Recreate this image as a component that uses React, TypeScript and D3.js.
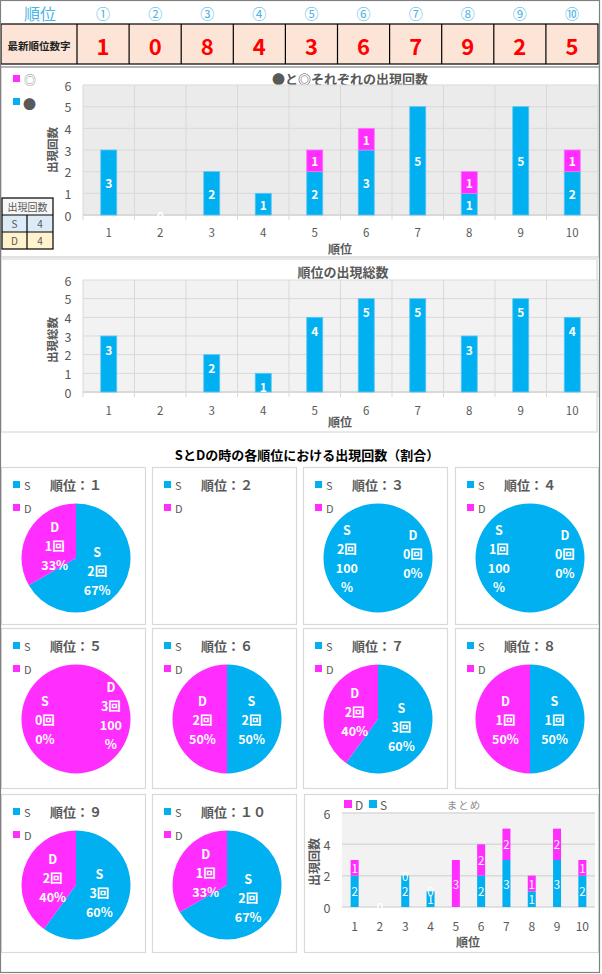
import React from 'react'
import * as d3 from 'd3'

const FONT = '"Noto Sans CJK JP", "Noto Sans", sans-serif'
const CYAN = '#00B0F0'
const MAGENTA = '#FF2EFF'
const GRAY = '#595959'
const GRID = '#D9D9D9'

// data read from the sheet
const rankLabels = ['1', '2', '3', '4', '5', '6', '7', '8', '9', '10']
const circledLabels = ['①', '②', '③', '④', '⑤', '⑥', '⑦', '⑧', '⑨', '⑩']
const latestDigits = [1, 0, 8, 4, 3, 6, 7, 9, 2, 5]
const dotCounts = [3, 0, 2, 1, 2, 3, 5, 1, 5, 2]
const ringCounts = [0, 0, 0, 0, 1, 1, 0, 1, 0, 1]
const totalCounts = [3, 0, 2, 1, 4, 5, 5, 3, 5, 4]
const sCounts = [2, 0, 2, 1, 0, 2, 3, 1, 3, 2]
const dCounts = [1, 0, 0, 0, 3, 2, 2, 1, 2, 1]
const pieTitles = ['順位：１', '順位：２', '順位：３', '順位：４', '順位：５', '順位：６', '順位：７', '順位：８', '順位：９', '順位：１０']
const sliceNames = ['S', 'D']
const tableKeys = ['S', 'D']
const tableValues = [4, 4]
const yTicksMain = [0, 1, 2, 3, 4, 5, 6]
const yTicksSummary = [0, 2, 4, 6]

function TopTable() {
  const x = d3.scaleBand<number>().domain(d3.range(10)).range([77, 598])
  const bw = x.bandwidth()
  return (
    <g>
      <text x={40} y={13} textAnchor="middle" dominantBaseline="central" fontSize={16} fill="#4BB5E6">順位</text>
      {circledLabels.map((c, i) => (
        <text key={c} x={x(i)! + bw / 2} y={13} textAnchor="middle" dominantBaseline="central" fontSize={14} fill="#4BB5E6">{c}</text>
      ))}
      <rect x={1} y={24} width={597} height={40} fill="#FCE4D6" stroke="#000" strokeWidth={1.2} />
      {d3.range(10).map((i) => (
        <line key={i} x1={x(i)} x2={x(i)} y1={24} y2={64} stroke="#000" strokeWidth={1.2} />
      ))}
      <text x={39} y={45} textAnchor="middle" dominantBaseline="central" fontSize={10.5} fontWeight="bold" fill="#222">最新順位数字</text>
      {latestDigits.map((v, i) => (
        <text key={i} x={x(i)! + bw / 2} y={45} textAnchor="middle" dominantBaseline="central" fontSize={22} fontWeight="bold" fill="#FF0000">{v}</text>
      ))}
    </g>
  )
}

type Series = { values: number[]; color: string; edge: string }

function ColumnPanel(props: {
  yBottom: number
  yTop: number
  bg: string
  series: Series[]
  labelAtEnd: boolean
  title: string
  titleX: number
  titleY: number
  yTitle: string
  yTitleY: number
  tickY: number
  xTitleY: number
}) {
  const { yBottom, yTop, bg, series, labelAtEnd } = props
  const x = d3.scaleBand<string>().domain(rankLabels).range([83, 598])
  const y = d3.scaleLinear().domain([0, 6]).range([yBottom, yTop])
  const bw = x.bandwidth()
  const barW = 16
  const edges = rankLabels.map((r) => x(r)!).concat([598])
  return (
    <g>
      <text x={props.titleX} y={props.titleY} textAnchor="middle" dominantBaseline="central" fontSize={13} fontWeight="bold" fill={GRAY}>{props.title}</text>
      <rect x={83} y={y(6)} width={515} height={y(0) - y(6)} fill={bg} />
      {yTicksMain.map((t) => (
        <line key={t} x1={83} x2={598} y1={y(t)} y2={y(t)} stroke={GRID} strokeWidth={1} />
      ))}
      {edges.map((e, i) => (
        <line key={i} x1={e} x2={e} y1={y(6)} y2={y(0) + 5} stroke={GRID} strokeWidth={1} />
      ))}
      <line x1={83} x2={598} y1={y(0)} y2={y(0)} stroke={GRID} strokeWidth={2} />
      {yTicksMain.map((t) => (
        <text key={t} x={68} y={y(t)} textAnchor="middle" dominantBaseline="central" fontSize={12.5} fill={GRAY}>{t}</text>
      ))}
      {rankLabels.map((r) => (
        <text key={r} x={x(r)! + bw / 2} y={props.tickY} textAnchor="middle" dominantBaseline="central" fontSize={11.5} fill={GRAY}>{r}</text>
      ))}
      <text x={340} y={props.xTitleY} textAnchor="middle" dominantBaseline="central" fontSize={12} fontWeight="bold" fill={GRAY}>順位</text>
      <text transform={`translate(52,${props.yTitleY}) rotate(-90)`} textAnchor="middle" dominantBaseline="central" fontSize={11.5} fontWeight="bold" fill={GRAY}>{props.yTitle}</text>
      {rankLabels.map((r, i) => {
        let base = 0
        const total = d3.sum(series, (s) => s.values[i])
        return (
          <g key={r}>
            {series.map((s, k) => {
              const v = s.values[i]
              const y0 = base
              base += v
              const bx = x(r)! + (bw - barW) / 2
              const showLabel = v > 0 || (!labelAtEnd && k === 0 && total === 0)
              const ly = labelAtEnd ? y(base) + 13 : (y(y0) + y(base)) / 2
              return (
                <g key={k}>
                  {v > 0 && (
                    <rect x={bx} y={y(base)} width={barW} height={y(y0) - y(base)} fill={s.color} stroke={s.edge} strokeWidth={0.8} />
                  )}
                  {showLabel && (
                    <text x={bx + barW / 2} y={ly} textAnchor="middle" dominantBaseline="central" fontSize={12} fontWeight="bold" fill="#fff">{v}</text>
                  )}
                </g>
              )
            })}
          </g>
        )
      })}
    </g>
  )
}

function MiniTable() {
  const cols = [2, 27, 53]
  const rows = [198, 215, 232, 249]
  const fills = ['#DDEBF7', '#FFF2CC']
  return (
    <g fontSize={10} fill={GRAY}>
      <rect x={cols[0]} y={rows[0]} width={cols[2] - cols[0]} height={rows[1] - rows[0]} fill="#F7F7F7" />
      {tableKeys.map((k, i) => (
        <rect key={k} x={cols[0]} y={rows[i + 1]} width={cols[2] - cols[0]} height={rows[i + 2] - rows[i + 1]} fill={fills[i]} />
      ))}
      <rect x={cols[0]} y={rows[0]} width={cols[2] - cols[0]} height={rows[3] - rows[0]} fill="none" stroke="#000" strokeWidth={1.2} />
      {rows.slice(1, 3).map((r) => (
        <line key={r} x1={cols[0]} x2={cols[2]} y1={r} y2={r} stroke="#000" strokeWidth={1.2} />
      ))}
      <line x1={cols[1]} x2={cols[1]} y1={rows[1]} y2={rows[3]} stroke="#000" strokeWidth={1.2} />
      <text x={(cols[0] + cols[2]) / 2} y={(rows[0] + rows[1]) / 2} textAnchor="middle" dominantBaseline="central" fill={GRAY}>出現回数</text>
      {tableKeys.map((k, i) => (
        <g key={k}>
          <text x={(cols[0] + cols[1]) / 2} y={(rows[i + 1] + rows[i + 2]) / 2} textAnchor="middle" dominantBaseline="central" fill={GRAY}>{k}</text>
          <text x={(cols[1] + cols[2]) / 2} y={(rows[i + 1] + rows[i + 2]) / 2} textAnchor="middle" dominantBaseline="central" fill={GRAY}>{tableValues[i]}</text>
        </g>
      ))}
    </g>
  )
}

function PieBox({ i, bx, by, w, h }: { i: number; bx: number; by: number; w: number; h: number }) {
  const values = [sCounts[i], dCounts[i]]
  const total = d3.sum(values)
  const cx = bx + 75
  const cy = by + 91
  const r = 54.5
  const arcs = total > 0 ? d3.pie<number>().sort(null).value((v) => v)(values) : []
  const arc = d3.arc<d3.PieArcDatum<number>>().innerRadius(0).outerRadius(r)
  const labelArc = d3.arc<d3.PieArcDatum<number>>().innerRadius(0).outerRadius(r * 0.9)
  const colors = [CYAN, MAGENTA]
  const single = values.some((v) => v === 0)
  const sidePos = [
    [-0.57 * r, 0],
    [0.64 * r, -0.08 * r],
  ]
  const clipId = `pieclip-${i}`
  return (
    <g>
      <rect x={bx + 0.5} y={by + 0.5} width={w} height={h} fill="#fff" stroke={GRID} strokeWidth={1.2} />
      {sliceNames.map((n, k) => (
        <g key={n}>
          <rect x={bx + 12} y={by + 14 + k * 23} width={7} height={7} fill={colors[k]} />
          <text x={bx + 23} y={by + 18 + k * 23} dominantBaseline="central" fontSize={11} fill={GRAY}>{n}</text>
        </g>
      ))}
      <text x={bx + 49} y={by + 17} dominantBaseline="central" fontSize={13} fontWeight="bold" fill={GRAY}>{pieTitles[i]}</text>
      <clipPath id={clipId}>
        <rect x={cx - r} y={cy - r} width={2 * r} height={2 * r} />
      </clipPath>
      <g transform={`translate(${cx},${cy})`}>
        {arcs.map((a, k) =>
          values[k] > 0 ? <path key={k} d={arc(a) || ''} fill={colors[k]} /> : null
        )}
      </g>
      <g clipPath={`url(#${clipId})`}>
        {arcs.map((a, k) => {
          const v = values[k]
          const pct = Math.round((v / total) * 100)
          const lines = [sliceNames[k], `${v}回`].concat(pct === 100 ? ['100', '%'] : [`${pct}%`])
          const [lx, ly] = single ? sidePos[k] : labelArc.centroid(a)
          const top = ly - ((lines.length - 1) * 19) / 2
          return (
            <g key={k}>
              {lines.map((t, j) => (
                <text key={j} x={cx + lx} y={cy + top + j * 19} textAnchor="middle" dominantBaseline="central" fontSize={12.5} fontWeight="bold" fill="#fff">{t}</text>
              ))}
            </g>
          )
        })}
      </g>
    </g>
  )
}

function SummaryChart() {
  const x = d3.scaleBand<string>().domain(rankLabels).range([342, 595])
  const y = d3.scaleLinear().domain([0, 6]).range([907, 813])
  const bw = x.bandwidth()
  const barW = 8
  const stack = [
    { values: sCounts, color: CYAN },
    { values: dCounts, color: MAGENTA },
  ]
  return (
    <g>
      <rect x={304.5} y={794.5} width={294} height={158} fill="#fff" stroke={GRID} strokeWidth={1.2} />
      <rect x={344} y={800} width={8} height={8} fill={MAGENTA} />
      <text x={355} y={804} dominantBaseline="central" fontSize={12} fill={GRAY}>D</text>
      <rect x={369} y={800} width={8} height={8} fill={CYAN} />
      <text x={380} y={804} dominantBaseline="central" fontSize={12} fill={GRAY}>S</text>
      <text x={464} y={804} textAnchor="middle" dominantBaseline="central" fontSize={10.5} letterSpacing={1} fill="#8C8C8C">まとめ</text>
      <rect x={342} y={y(6)} width={253} height={y(0) - y(6)} fill="#F2F2F2" />
      {yTicksSummary.map((t) => (
        <line key={t} x1={342} x2={595} y1={y(t)} y2={y(t)} stroke={GRID} strokeWidth={1.5} />
      ))}
      {yTicksSummary.map((t) => (
        <text key={t} x={327} y={y(t)} textAnchor="middle" dominantBaseline="central" fontSize={12.5} fill={GRAY}>{t}</text>
      ))}
      {rankLabels.map((r) => (
        <text key={r} x={x(r)! + bw / 2} y={925} textAnchor="middle" dominantBaseline="central" fontSize={12} fill={GRAY}>{r}</text>
      ))}
      <text x={468} y={941} textAnchor="middle" dominantBaseline="central" fontSize={12} fontWeight="bold" fill={GRAY}>順位</text>
      <text transform="translate(313,862) rotate(-90)" textAnchor="middle" dominantBaseline="central" fontSize={12} fontWeight="bold" fill={GRAY}>出現回数</text>
      {rankLabels.map((r, i) => {
        let base = 0
        const bx = x(r)! + (bw - barW) / 2
        return (
          <g key={r}>
            {stack.map((s, k) => {
              const v = s.values[i]
              const y0 = base
              base += v
              return (
                <g key={k}>
                  {v > 0 && <rect x={bx} y={y(base)} width={barW} height={y(y0) - y(base)} fill={s.color} />}
                  <text x={bx + barW / 2} y={(y(y0) + y(base)) / 2} textAnchor="middle" dominantBaseline="central" fontSize={11.5} fill="#fff">{v}</text>
                </g>
              )
            })}
          </g>
        )
      })}
    </g>
  )
}

export default function App() {
  const colX = [1, 152, 303, 455]
  const colW = [144, 144, 144, 143]
  const rowY = [467, 628, 794]
  const rowH = [157, 160, 158]
  return (
    <div style={{ position: 'absolute', left: 0, top: 0 }}>
      <svg width={602} height={974} style={{ display: 'block' }} fontFamily={FONT}>
        <rect x={0} y={0} width={602} height={974} fill="#fff" />
        <TopTable />
        <rect x={1} y={67} width={598} height={190} fill="#fff" stroke={GRID} strokeWidth={1.5} />
        <line x1={1} x2={599} y1={67} y2={67} stroke="#A6A6A6" strokeWidth={1.5} />
        <g>
          <rect x={13} y={75} width={7} height={7} fill={MAGENTA} />
          <text x={24} y={79} dominantBaseline="central" fontSize={12} fill="#8C8C8C">◎</text>
          <rect x={13} y={98} width={7} height={7} fill={CYAN} />
          <text x={23} y={103} dominantBaseline="central" fontSize={13} fill={GRAY}>●</text>
        </g>
        <ColumnPanel
          yBottom={215}
          yTop={85}
          bg="#EBEBEB"
          series={[
            { values: dotCounts, color: CYAN, edge: '#5CC6F2' },
            { values: ringCounts, color: MAGENTA, edge: '#FF70FF' },
          ]}
          labelAtEnd={false}
          title="●と◎それぞれの出現回数"
          titleX={350}
          titleY={78}
          yTitle="出現回数"
          yTitleY={150}
          tickY={232}
          xTitleY={248}
        />
        <MiniTable />
        <rect x={1} y={259} width={596} height={173} fill="#fff" stroke={GRID} strokeWidth={1.2} />
        <ColumnPanel
          yBottom={392}
          yTop={280}
          bg="#F2F2F2"
          series={[{ values: totalCounts, color: CYAN, edge: '#5CC6F2' }]}
          labelAtEnd={true}
          title="順位の出現総数"
          titleX={343}
          titleY={271}
          yTitle="出現総数"
          yTitleY={340}
          tickY={410}
          xTitleY={421}
        />
        <text x={307} y={454} textAnchor="middle" dominantBaseline="central" fontSize={13} fontWeight="bold" fill="#000">SとDの時の各順位における出現回数（割合）</text>
        {pieTitles.map((t, i) => {
          const row = Math.floor(i / 4)
          const col = i % 4
          return <PieBox key={t} i={i} bx={colX[col]} by={rowY[row]} w={colW[col]} h={rowH[row]} />
        })}
        <SummaryChart />
        <rect x={0.5} y={0.5} width={599} height={972} fill="none" stroke="#808080" strokeWidth={1.2} />
      </svg>
    </div>
  )
}
